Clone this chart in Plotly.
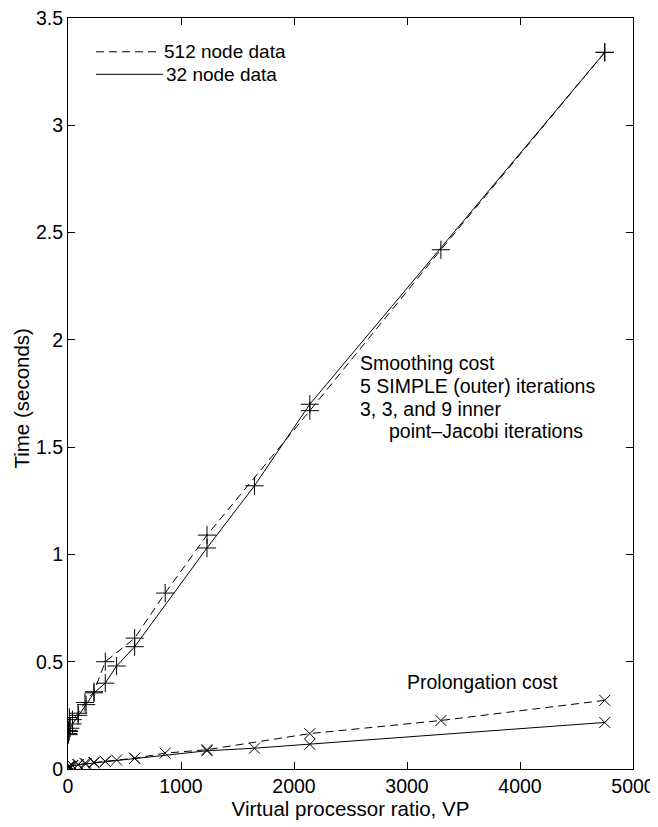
import plotly.graph_objects as go

# ---- data ----
vp_512 = [4750, 3300, 2140, 1230, 860, 590, 330, 230, 150, 90, 40, 12, 5, 2]
smooth_512 = [3.34, 2.42, 1.67, 1.09, 0.82, 0.61, 0.50, 0.36, 0.31, 0.26, 0.23, 0.24, 0.18, 0.165]
prolong_512 = [0.32, 0.226, 0.165, 0.09, 0.074, 0.05, 0.036, 0.031, 0.026, 0.021, 0.016, 0.012, 0.01, 0.008]

vp_32 = [4750, 2140, 1650, 1230, 590, 430, 330, 230, 160, 90, 40, 20, 10, 5]
smooth_32 = [3.34, 1.70, 1.32, 1.03, 0.57, 0.48, 0.40, 0.355, 0.30, 0.25, 0.21, 0.19, 0.175, 0.16]
prolong_32 = [0.217, 0.115, 0.097, 0.085, 0.05, 0.042, 0.035, 0.03, 0.025, 0.02, 0.015, 0.012, 0.01, 0.008]

legend_names = ["512 node data", "32 node data"]
x_ticks = [0, 1000, 2000, 3000, 4000, 5000]
y_ticks = [0, 0.5, 1, 1.5, 2, 2.5, 3, 3.5]
y_tick_text = ["0", "0.5", "1", "1.5", "2", "2.5", "3", "3.5"]

smooth_label = ["Smoothing cost", "5 SIMPLE (outer) iterations", "3, 3, and 9 inner", "point\u2013Jacobi iterations"]
prolong_label = "Prolongation cost"
x_title = "Virtual processor ratio, VP"
y_title = "Time (seconds)"

FONT = "Liberation Sans, Arial, Helvetica, sans-serif"
DASH = "8px,5px"

fig = go.Figure()

def add_series(x, y, dash, symbol, size):
    fig.add_trace(go.Scatter(
        x=x, y=y, mode="lines+markers", showlegend=False,
        line=dict(color="black", width=1, dash=dash),
        marker=dict(symbol=symbol, size=size, color="black",
                    line=dict(color="black", width=1)),
    ))

add_series(vp_512, smooth_512, DASH, "cross-thin", 13)
add_series(vp_32, smooth_32, "solid", "cross-thin", 13)
add_series(vp_512, prolong_512, DASH, "x-thin", 11)
add_series(vp_32, prolong_32, "solid", "x-thin", 11)

shapes = []
ann = []
# manual legend (MATLAB style: line sample followed by label)
leg_y = [0.955, 0.925]
leg_dash = [DASH, "solid"]
leg_x1 = [0.159, 0.168]
leg_tx = [0.166, 0.170]
for name, yy, d, x1, tx in zip(legend_names, leg_y, leg_dash, leg_x1, leg_tx):
    shapes.append(dict(type="line", xref="paper", yref="paper",
                       x0=0.0496, x1=x1, y0=yy, y1=yy,
                       line=dict(color="black", width=1, dash=d)))
    ann.append(dict(xref="paper", yref="paper", x=tx, y=yy, text=name,
                    showarrow=False, xanchor="left", yanchor="middle",
                    font=dict(family=FONT, size=19, color="black")))

ys = [1.89, 1.785, 1.68, 1.575]
xs = [2570, 2570, 2570, 2823]
for t, xx, yy in zip(smooth_label, xs, ys):
    ann.append(dict(x=xx, y=yy, text=t, showarrow=False, xanchor="left", yanchor="middle",
                    font=dict(family=FONT, size=19.5, color="black")))
ann.append(dict(x=2982, y=0.406, text=prolong_label, showarrow=False, xanchor="left",
                yanchor="middle", font=dict(family=FONT, size=19.5, color="black")))
# y-axis title
ann.append(dict(xref="paper", yref="paper", x=-0.084, y=0.494, text=y_title,
                textangle=-90, showarrow=False, xanchor="center", yanchor="middle",
                font=dict(family=FONT, size=20.5, color="black")))

axis_common = dict(showgrid=False, zeroline=False, showline=True, linecolor="black",
                   linewidth=1, mirror="ticks", ticks="inside", ticklen=7,
                   tickcolor="black", tickwidth=1, ticklabeloverflow="allow",
                   automargin=False,
                   tickfont=dict(family=FONT, size=19.5, color="black"))

# the page body has an 8px margin, so the figure is sized to fit the window
fig.update_layout(
    width=650, height=819,
    margin=dict(l=60, r=25, t=10, b=58, autoexpand=False),
    paper_bgcolor="white", plot_bgcolor="white",
    font=dict(family=FONT, size=19, color="black"),
    showlegend=False,
    xaxis=dict(range=[0, 5000], tickvals=x_ticks,
               title=dict(text=x_title, standoff=0,
                          font=dict(family=FONT, size=20.5, color="black")),
               **axis_common),
    yaxis=dict(range=[0, 3.5], tickvals=y_ticks, ticktext=y_tick_text,
               **axis_common),
    shapes=shapes,
    annotations=ann,
)

fig.write_html("out.html")
